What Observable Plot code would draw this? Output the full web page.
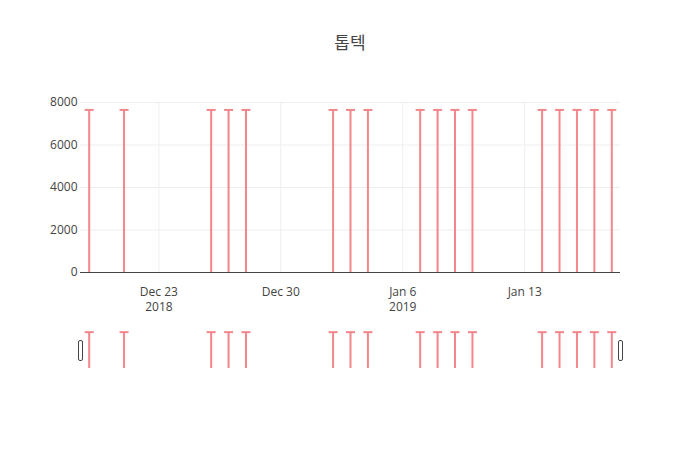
<!DOCTYPE html>
<html>
<head>
<meta charset="utf-8">
<script src="https://cdn.jsdelivr.net/npm/d3@7"></script>
<script src="https://cdn.jsdelivr.net/npm/@observablehq/plot@0.6"></script>
<style>
  html, body { margin: 0; padding: 0; background: #fff; }
  #wrap { width: 700px; height: 450px; overflow: hidden; font-family: "Open Sans", "Noto Sans CJK KR", sans-serif; }
  #title { height: 27px; padding-top: 33px; text-align: center; font-size: 17px; line-height: 20px; color: #444; font-family: "Open Sans", "Noto Sans CJK KR", sans-serif; }
  svg { display: block; }
</style>
</head>
<body>
<div id="wrap">
  <div id="title">톱텍</div>
  <div id="main"></div>
  <div id="slider"></div>
</div>
<script>
const titleText = "톱텍";
const dates = ["2018-12-19","2018-12-21","2018-12-26","2018-12-27","2018-12-28",
  "2019-01-02","2019-01-03","2019-01-04","2019-01-07","2019-01-08","2019-01-09","2019-01-10",
  "2019-01-14","2019-01-15","2019-01-16","2019-01-17","2019-01-18"];
const values = [7650,7650,7650,7650,7650,7650,7650,7650,7650,7650,7650,7650,7650,7650,7650,7650,7650];
const xRange = ["2018-12-18T12:00:00Z","2019-01-18T12:00:00Z"];
const tickDates = ["2018-12-23","2018-12-30","2019-01-06","2019-01-13"];
const tickLabels = ["Dec 23\n2018","Dec 30","Jan 6\n2019","Jan 13"];
const yTicks = [0,2000,4000,6000,8000];

const data = dates.map((d, i) => ({date: new Date(d), value: values[i]}));
const xDomain = xRange.map(d => new Date(d));
const xTicks = tickDates.map(d => new Date(d));
const labelOf = new Map(xTicks.map((d, i) => [+d, tickLabels[i]]));

const color = "#f2868b";
const font = "Open Sans, Noto Sans CJK KR, sans-serif";

const capSymbol = {
  draw(ctx, size) {
    const w = Math.sqrt(size / Math.PI);
    ctx.moveTo(-w, 0);
    ctx.lineTo(w, 0);
  }
};
const handleSymbol = {
  draw(ctx, size) {
    const w = 2, h = 10, r = 1.5;
    ctx.moveTo(-w + r, -h);
    ctx.lineTo(w - r, -h);
    ctx.arcTo(w, -h, w, -h + r, r);
    ctx.lineTo(w, h - r);
    ctx.arcTo(w, h, w - r, h, r);
    ctx.lineTo(-w + r, h);
    ctx.arcTo(-w, h, -w, h - r, r);
    ctx.lineTo(-w, -h + r);
    ctx.arcTo(-w, -h, -w + r, -h, r);
    ctx.closePath();
  }
};

const main = Plot.plot({
  width: 700,
  height: 260,
  marginTop: 42,
  marginBottom: 48,
  marginLeft: 80,
  marginRight: 80,
  style: {fontFamily: font, fontSize: "12px", color: "#444", background: "transparent"},
  x: {type: "utc", domain: xDomain},
  y: {domain: [0, 8000]},
  marks: [
    Plot.gridY(yTicks, {stroke: "#eee", strokeOpacity: 1}),
    Plot.gridX(xTicks, {stroke: "#eee", strokeOpacity: 1}),
    Plot.axisY(yTicks, {tickSize: 0, tickPadding: 3, fill: "#444", fontSize: 12, label: null, tickFormat: d3.format("d")}),
    Plot.axisX(xTicks, {tickSize: 0, tickPadding: 12, fill: "#444", fontSize: 12, lineHeight: 1.3,
      tickFormat: d => labelOf.get(+d), label: null}),
    Plot.ruleX(data, {x: "date", y1: 0, y2: "value", stroke: color, strokeWidth: 2}),
    Plot.dot(data, {x: "date", y: "value", symbol: capSymbol, r: 4.5, stroke: color, strokeWidth: 2, fill: "none"}),
    Plot.ruleY([0], {stroke: "#444", strokeWidth: 1})
  ]
});
document.getElementById("main").appendChild(main);

const slider = Plot.plot({
  width: 700,
  height: 130,
  marginTop: 10,
  marginBottom: 82,
  marginLeft: 80,
  marginRight: 80,
  style: {fontFamily: font, background: "transparent"},
  x: {type: "utc", domain: xDomain, axis: null},
  y: {domain: [0, 8000], axis: null},
  marks: [
    Plot.ruleX(data, {x: "date", y1: 0, y2: "value", stroke: color, strokeWidth: 2}),
    Plot.dot(data, {x: "date", y: "value", symbol: capSymbol, r: 4.5, stroke: color, strokeWidth: 2, fill: "none"}),
    Plot.dot(xDomain, {x: d => d, frameAnchor: "middle", dy: 1, symbol: handleSymbol, r: 5, stroke: "#444", strokeWidth: 1, fill: "#fff"})
  ]
});
document.getElementById("slider").appendChild(slider);
</script>
</body>
</html>
